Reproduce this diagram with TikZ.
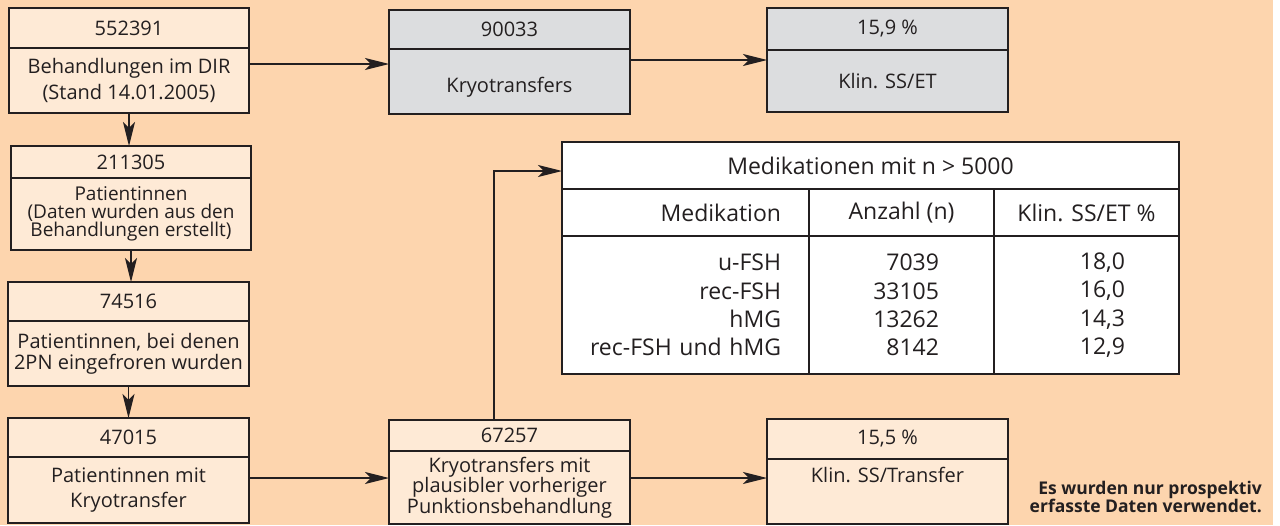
\documentclass[tikz,border=0pt]{standalone}
\usepackage{fontspec}
\setmainfont{Open Sans}
\usetikzlibrary{arrows.meta,positioning}
\definecolor{peach}{HTML}{FDD5AE}
\definecolor{lightfill}{HTML}{FEEAD6}
\definecolor{greyfill}{HTML}{DCDDDF}
\definecolor{linec}{HTML}{231F20}
\begin{document}
\begin{tikzpicture}[x=1pt,y=-1pt,
    boxhd/.style={draw=linec, line width=1.5pt, fill=lightfill, anchor=north west,
      minimum width=241pt, inner sep=0pt, outer sep=0pt, text=linec,
      font=\fontsize{20}{22}\selectfont},
    boxbd/.style={boxhd, align=center},
    greybox/.style={fill=greyfill},
    tabcell/.style={draw=linec, line width=1.5pt, fill=white, anchor=north west,
      inner sep=0pt, outer sep=0pt, text=linec, font=\fontsize{23}{28.3}\selectfont},
    arr/.style={draw=linec, line width=1.2pt, -{Stealth[length=24pt,width=12pt,inset=6pt]}}]

\fill[peach] (0,0) rectangle (1273,525);
\useasboundingbox (0,0) rectangle (1280,525);

	% left column
	\node[boxhd, minimum width=240pt, minimum height=40pt] (hdA) at (9,8) {552391};
	\node[boxbd, minimum width=240pt, minimum height=65pt, font=\fontsize{20}{26}\selectfont] (bdA) at (hdA.south west) {Behandlungen im DIR\\(Stand 14.01.2005)};
	\node[boxhd, minimum width=240pt, minimum height=32pt] (hdB) at (11,146) {211305};
	\node[boxbd, minimum width=240pt, minimum height=72pt, font=\fontsize{19}{18}\selectfont] (bdB) at (hdB.south west) {Patientinnen\\(Daten wurden aus den\\Behandlungen erstellt)};
	\node[boxhd, minimum height=39pt] (hdC) at (8,282) {74516};
	\node[boxbd, minimum height=65pt, font=\fontsize{20}{21}\selectfont] (bdC) at (hdC.south west) {Patientinnen, bei denen\\2PN eingefroren wurden};
	\node[boxhd, minimum height=39pt] (hdD) at (8,418) {47015};
	\node[boxbd, minimum height=66pt, font=\fontsize{20}{25}\selectfont] (bdD) at (hdD.south west) {Patientinnen mit\\Kryotransfer};

	% grey row
	\node[boxhd, greybox, minimum height=39pt] (hdE) at (389,10) {90033};
	\node[boxbd, greybox, minimum height=65pt, text height=26pt] (bdE) at (hdE.south west) {Kryotransfers};
	\node[boxhd, greybox, minimum height=42pt] (hdF) at (767,8) {15,9 \%};
	\node[boxbd, greybox, minimum height=62pt] (bdF) at (hdF.south west) {Klin. SS/ET};

	% bottom row
	\node[boxhd, minimum height=31pt] (hdG) at (389,420) {67257};
	\node[boxbd, minimum height=73pt, font=\fontsize{20}{20.5}\selectfont] (bdG) at (hdG.south west) {Kryotransfers mit\\plausibler vorheriger\\Punktionsbehandlung};
	\node[boxhd, minimum height=40pt] (hdH) at (767,419) {15,5 \%};
	\node[boxbd, minimum height=65pt, text height=18pt, text depth=37pt] (bdH) at (hdH.south west) {Klin. SS/Transfer};

	% table
	\node[tabcell, minimum width=617pt, minimum height=47pt] (tabhd) at (562,142) {Medikationen mit n > 5000};
	\node[tabcell, minimum width=247pt, minimum height=47pt, text width=191pt, align=right] (medhd) at (tabhd.south west) {Medikation};
	\node[tabcell, minimum width=185pt, minimum height=47pt] (anzhd) at (medhd.north east) {Anzahl (n)};
	\node[tabcell, minimum width=185pt, minimum height=47pt] (klinhd) at (anzhd.north east) {Klin. SS/ET \%};
	\node[tabcell, minimum width=247pt, minimum height=138pt, text width=191pt, align=right] (meddat) at (medhd.south west) {u-FSH\\rec-FSH\\hMG\\rec-FSH und hMG};
	\node[tabcell, minimum width=185pt, minimum height=138pt, text width=75pt, align=right] (anzdat) at (meddat.north east) {7039\\33105\\13262\\8142};
	\node[tabcell, minimum width=185pt, minimum height=138pt, text width=77pt, align=right] (klindat) at (anzdat.north east) {18,0\\16,0\\14,3\\12,9};

	% note
	\node[anchor=east, align=right, inner sep=0pt, text=linec, font=\fontsize{17.5}{17}\selectfont\bfseries] (note) at (1262,497) {Es wurden nur prospektiv\\erfasste Daten verwendet.};

	% arrows
	\draw[arr] (bdA.south) -- (bdA.south |- hdB.north);
	\draw[arr] (bdB.south) -- (bdB.south |- hdC.north);
	\draw[arr] (bdC.south) -- (bdC.south |- hdD.north);
	\draw[arr] ([yshift=16.5pt]bdA.east) -- ([yshift=16.5pt]bdA.east -| bdE.west);
	\draw[arr] ([yshift=21.5pt]bdE.east) -- ([yshift=21.5pt]bdE.east -| bdF.west);
	\draw[arr] ([yshift=12pt]bdD.east) -- ([yshift=12pt]bdD.east -| bdG.west);
	\draw[arr] ([yshift=9.5pt]bdG.east) -- ([yshift=9.5pt]bdG.east -| bdH.west);
	\draw[arr] ([xshift=-15.5pt]hdG.north) |- ([yshift=-5.5pt]tabhd.west);

\end{tikzpicture}
\end{document}
